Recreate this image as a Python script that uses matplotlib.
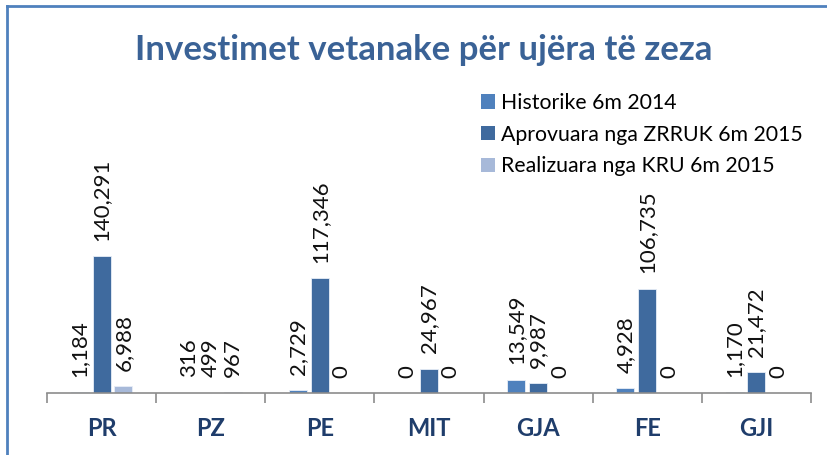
import matplotlib
matplotlib.use("Agg")
import matplotlib.pyplot as plt
import numpy as np
from matplotlib.patches import Patch
from matplotlib.lines import Line2D

categories = ["PR", "PZ", "PE", "MIT", "GJA", "FE", "GJI"]
series_names = ["Historike 6m 2014", "Aprovuara nga ZRRUK 6m 2015", "Realizuara nga KRU 6m 2015"]
historike = [1184, 316, 2729, 0, 13549, 4928, 1170]
aprovuara = [140291, 499, 117346, 24967, 9987, 106735, 21472]
realizuara = [6988, 967, 0, 0, 0, 0, 0]
colors = ["#4F81BD", "#3F6A9E", "#A7B9D9"]
title = "Investimet vetanake për ujëra të zeza"

plt.rcParams['font.family'] = ['Lato', 'DejaVu Sans']

W, H = 828, 455
fig = plt.figure(figsize=(W / 100, H / 100), dpi=100)

def px(x0, y0, x1, y1):
    return [x0 / W, 1 - y1 / H, (x1 - x0) / W, (y1 - y0) / H]

ymax = 160000
top_px = 393 - ymax * 137 / 140291
ax = fig.add_axes(px(47, top_px, 811, 393))

x = np.arange(len(categories))
step = 0.2
width = 0.165
series = [historike, aprovuara, realizuara]
for i, (vals, col, name) in enumerate(zip(series, colors, series_names)):
    xs = x + (i - 1) * step
    ax.bar(xs, vals, width=width, color=col, edgecolor="#E8EEF7", linewidth=0.6, label=name)
    for xi, v in zip(xs, vals):
        ax.annotate(f"{v:,}", (xi, v), xytext=(0, 11), textcoords="offset points",
                    rotation=90, ha="center", va="bottom", fontsize=16, color="#111111",
                    annotation_clip=False)

ax.set_xlim(-0.5, len(categories) - 0.5)
ax.set_ylim(0, ymax)
for s in ["top", "right", "left"]:
    ax.spines[s].set_visible(False)
ax.spines["bottom"].set_color("#8C8C8C")
ax.spines["bottom"].set_linewidth(1.2)
ax.set_yticks([])
ax.set_xticks(np.arange(len(categories) + 1) - 0.5)
ax.set_xticklabels([])
ax.tick_params(axis="x", length=7, width=1.2, color="#8C8C8C", direction="out")
for xi, c in zip(x, categories):
    ax.text(xi, -35 / (393 - top_px), c, transform=ax.get_xaxis_transform(),
            ha="center", va="center", fontsize=17, fontweight="bold", color="#1F3D6B")

fig.text(424 / W, 1 - 50 / H, title, ha="center", va="center", fontsize=25,
         fontweight="bold", color="#3A6296")

handles = [Patch(facecolor=c, edgecolor="none") for c in colors]
fig.legend(handles, series_names, loc="upper left", bbox_to_anchor=(481 / W, 1 - 93 / H),
           frameon=False, fontsize=15.3, handlelength=0.65, handleheight=0.65,
           handletextpad=0.3, labelspacing=0.55, borderaxespad=0, borderpad=0)

# chart border (top and left edges)
fig.add_artist(Line2D([7 / W, 7 / W], [0, 1 - 6 / H], color="#4F81BD", linewidth=2))
fig.add_artist(Line2D([7 / W, 1], [1 - 6 / H, 1 - 6 / H], color="#4F81BD", linewidth=2))

fig.savefig("out.png", dpi=100)
